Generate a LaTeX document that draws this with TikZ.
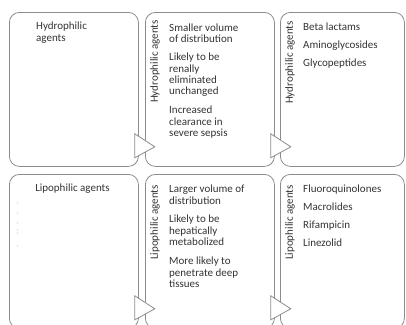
\documentclass[tikz,border=0pt]{standalone}
\usepackage{fontspec}
\setmainfont{Carlito}
\definecolor{boxgray}{HTML}{8C8C8C}
\definecolor{txtgray}{HTML}{333333}
\definecolor{dotgray}{HTML}{C4C4C4}
\begin{document}
\begin{tikzpicture}[x=1pt,y=-1pt,
  box/.style={draw=boxgray, line width=0.8pt, rounded corners=10pt, anchor=north west, inner sep=0pt, minimum height=154pt},
  tri/.style={draw=boxgray, fill=white, line width=0.8pt, line join=miter},
  txt/.style={text=txtgray, font=\fontsize{11}{11.3}\selectfont, align=left, inner sep=0pt, anchor=north west},
  vlab/.style={text=txtgray, font=\fontsize{11}{11.3}\selectfont, rotate=90, inner sep=0pt}]
\useasboundingbox (0,0) rectangle (406,324);
\clip (0,0) rectangle (406,324);
% boxes
\node[box, minimum width=129pt] (b1) at (9,12) {};
\node[box, minimum width=129pt] (b2) at (145,12) {};
\node[box, minimum width=124pt] (b3) at (280,12) {};
\node[box, minimum width=129pt] (b4) at (9,174) {};
\node[box, minimum width=129pt] (b5) at (145,174) {};
\node[box, minimum width=124pt] (b6) at (280,174) {};
% triangles between boxes
\draw[tri] ([shift={(-4,-33)}]b1.south east) -- ([shift={(16,-20)}]b1.south east) -- ([shift={(-4,-9)}]b1.south east) -- cycle;
\draw[tri] ([shift={(-4,-33)}]b2.south east) -- ([shift={(16,-20)}]b2.south east) -- ([shift={(-4,-9)}]b2.south east) -- cycle;
\draw[tri] ([shift={(-4,-33)}]b4.south east) -- ([shift={(16,-20)}]b4.south east) -- ([shift={(-4,-9)}]b4.south east) -- cycle;
\draw[tri] ([shift={(-4,-33)}]b5.south east) -- ([shift={(16,-20)}]b5.south east) -- ([shift={(-4,-9)}]b5.south east) -- cycle;
% box 1
\node[txt] (t1) at (36,22) {Hydrophilic\\agents};
% box 2
\node[vlab] (v2) at (155,61.5) {Hydrophilic agents};
\node[txt] (t2a) at (169,23.5) {Smaller volume\\of distribution};
\node[txt] (t2b) at (169,53) {Likely to be\\renally\\eliminated\\unchanged};
\node[txt] (t2c) at (169,106) {Increased\\clearance in\\severe sepsis};
% box 3
\node[vlab] (v3) at (290,62.5) {Hydrophilic agents};
\node[txt] (t3a) at (303,23) {Beta lactams};
\node[txt] (t3b) at (303,41) {Aminoglycosides};
\node[txt] (t3c) at (303,59) {Glycopeptides};
% box 4
\node[txt, anchor=north] (t4) at (72.5,184) {Lipophilic agents};
\foreach \yy in {203,213,223,230,233,246}
  \fill[dotgray] (17.5,\yy) circle (0.6pt);
% box 5
\node[vlab] (v5) at (155,222.5) {Lipophilic agents};
\node[txt] (t5a) at (169,185) {Larger volume of\\distribution};
\node[txt] (t5b) at (169,215) {Likely to be\\hepatically\\metabolized};
\node[txt] (t5c) at (169,257) {More likely to\\penetrate deep\\tissues};
% box 6
\node[vlab] (v6) at (290,222.5) {Lipophilic agents};
\node[txt] (t6a) at (303,185) {Fluoroquinolones};
\node[txt] (t6b) at (303,203) {Macrolides};
\node[txt] (t6c) at (303,221) {Rifampicin};
\node[txt] (t6d) at (303,239) {Linezolid};
\end{tikzpicture}
\end{document}
